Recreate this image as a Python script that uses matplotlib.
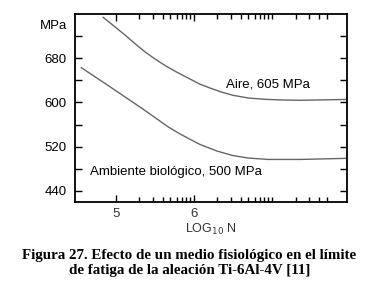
import numpy as np
import matplotlib
matplotlib.use("Agg")
import matplotlib.pyplot as plt
import matplotlib.transforms as mtransforms

# curves (x = log10 N, y = MPa)
aire_x = [4.84, 4.98, 5.12, 5.25, 5.38, 5.50, 5.63, 5.78, 5.93, 6.08, 6.21,
          6.35, 6.50, 6.70, 6.94, 7.15, 7.36, 7.96]
aire_y = [754, 738, 722, 706, 691, 679, 667, 655, 644, 633, 626,
          619, 613, 608, 605.5, 604.5, 604, 605.5]
bio_x = [4.56, 4.73, 4.90, 5.12, 5.33, 5.50, 5.67, 5.80, 5.93, 6.08, 6.30,
         6.50, 6.70, 6.95, 7.36, 7.96]
bio_y = [663, 647, 631, 610, 590, 573, 556, 545, 535, 524, 512,
         504, 499.5, 497, 497, 499]

y_major = [440, 480, 520, 560, 600, 640, 680, 720]
y_labels = ["440", "", "520", "", "600", "", "680", ""]
x_major = [5, 6]
x_minor = [d + np.log10(k) for d in (5, 6) for k in range(2, 10)] + [7] + \
          [7 + np.log10(k) for k in range(2, 6)]

caption = ("Figura 27. Efecto de un medio fisiológico en el límite\n"
           "de fatiga de la aleación Ti-6Al-4V [11]")

plt.rcParams['font.family'] = ['Liberation Sans', 'DejaVu Sans']

fig = plt.figure(figsize=(3.79, 2.91), dpi=100)
ax = fig.add_axes([0.198, 0.3058, 0.7177, 0.646])

ax.plot(aire_x, aire_y, color="#666666", lw=1.0)
ax.plot(bio_x, bio_y, color="#666666", lw=1.0)

ax.set_xlim(4.48, 7.96)
ax.set_ylim(420, 760)

ax.set_yticks(y_major)
ax.set_yticklabels(y_labels, fontsize=9.5)
ax.set_xticks(x_major)
ax.set_xticklabels(["5", "6"], fontsize=9.5, color="#333333")
ax.set_xticks(x_minor, minor=True)

ax.tick_params(axis="both", which="both", direction="in", top=True, right=True,
               width=1.0, color="black")
ax.tick_params(axis="y", which="major", length=5, pad=6)
ax.tick_params(axis="x", which="major", length=5, pad=4)
ax.tick_params(axis="x", which="minor", length=3.5)
for s in ax.spines.values():
    s.set_linewidth(1.3)

trans = mtransforms.blended_transform_factory(ax.transAxes, ax.transData)
ax.text(-0.028, 738, "MPa", transform=trans, ha="right", va="center", fontsize=9.5)

ax.text(6.95, 632, "Aire, 605 MPa", ha="center", va="center", fontsize=9.5)
ax.text(5.775, 474, "Ambiente biológico, 500 MPa", ha="center", va="center", fontsize=9.5)

ax.set_xlabel("LOG$_{10}$ N", fontsize=9, color="#333333", labelpad=2)

fig.text(0.5, 0.095, caption, ha="center", va="center", fontsize=10.8,
         fontweight="bold", family="Liberation Serif", linespacing=1.2)

fig.savefig("out.png", dpi=100)
